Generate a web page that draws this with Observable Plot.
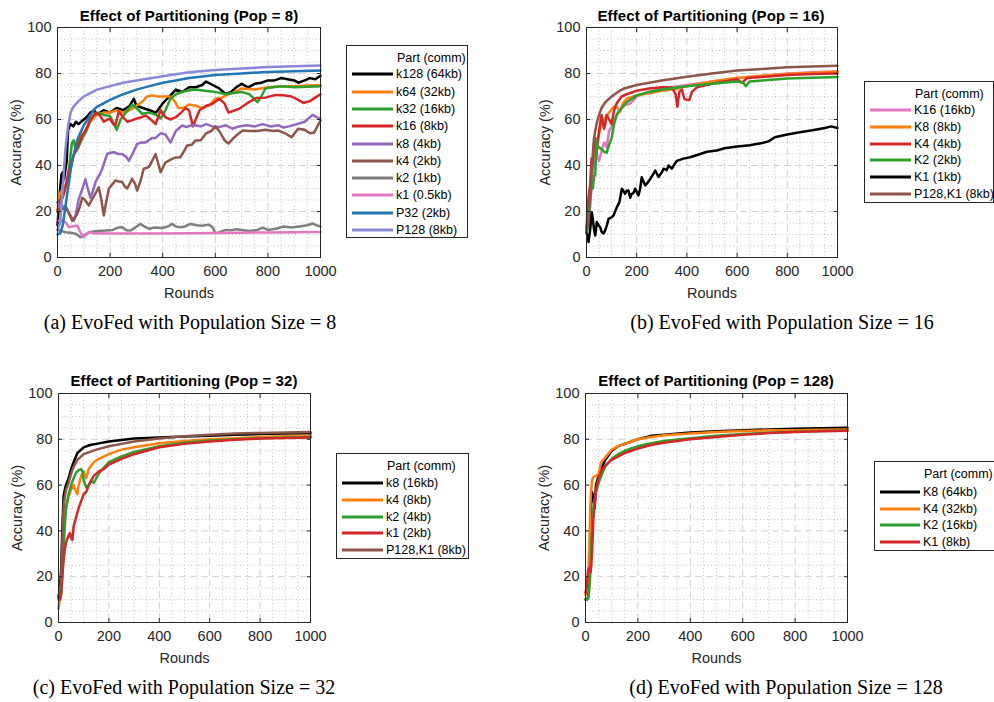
<!DOCTYPE html>
<html><head><meta charset="utf-8">
<script src="https://cdn.jsdelivr.net/npm/d3@7"></script>
<script src="https://cdn.jsdelivr.net/npm/@observablehq/plot@0.6"></script>
<style>
body{margin:0;background:#fff;}
#root{position:relative;width:994px;height:702px;overflow:hidden;font-family:"Liberation Sans",Arial,sans-serif;color:#262626}
.panel{position:absolute}
.title{position:absolute;font-weight:bold;font-size:15px;letter-spacing:0.1px;color:#000;white-space:nowrap;transform:translate(-50%,-50%)}
.caption{position:absolute;font-family:"Liberation Serif","Times New Roman",serif;font-size:20px;color:#000;white-space:nowrap;transform:translate(-50%,-50%)}
.legend{position:absolute;border:1px solid #262626;background:#fff;box-sizing:border-box}
.legend .row{position:absolute;font-size:12.5px;color:#000;white-space:nowrap;transform:translateY(-50%)}
.legend .sw{position:absolute;height:3px;transform:translateY(-50%)}
</style></head><body><div id="root"></div><script>
// ---------- tick values ----------
const xTicks = [0, 200, 400, 600, 800, 1000];
const yTicks = [0, 20, 40, 60, 80, 100];

// ---------- Panel (a): Pop = 8 ----------
const a_names = ["k128 (64kb)", "k64 (32kb)", "k32 (16kb)", "k16 (8kb)", "k8 (4kb)", "k4 (2kb)", "k2 (1kb)", "k1 (0.5kb)", "P32 (2kb)", "P128 (8kb)"];
const a_colors = ["#000000", "#ff7f0e", "#2ca02c", "#d62728", "#9467bd", "#8c564b", "#7f7f7f", "#e377c2", "#1f77b4", "#8c88d8"];
const a_k128 = [[0,14],[5,22],[10,30],[15,36],[20,37],[25,34],[30,38],[35,42],[40,55],[45,57],[50,58],[60,57],[70,59],[80,58],[90,59],[100,60],[110,61],[125,63],[140,64],[150,62],[175,64],[200,63],[225,65],[250,64],[275,66],[290,69],[300,66],[325,65],[350,64],[375,63],[400,67],[425,70],[450,73],[475,72],[500,74],[525,74],[550,75],[565,76.5],[590,75],[615,73.5],[640,71],[660,72],[680,74],[700,75.5],[725,74],[750,75.5],[775,76],[800,77],[825,77],[850,78],[875,77.5],[900,77],[915,76],[940,77],[960,78],[980,77.5],[1000,79]];
const a_k64 = [[0,20],[5,26],[10,28],[20,30],[30,31],[40,35],[50,39],[60,44],[75,50],[90,53],[100,54],[115,57],[125,59],[140,61],[150,62],[175,63],[200,63],[225,64],[250,63],[275,64],[300,66],[325,68],[340,70],[360,70.5],[380,70],[400,70],[430,70],[445,68],[460,65],[480,65],[500,66.5],[525,66],[550,65],[575,66],[600,69],[625,69.5],[650,71],[675,72],[700,73.5],[750,73],[800,74],[850,74.5],[900,74.5],[950,74.8],[1000,75]];
const a_k32 = [[0,24],[10,25],[20,27],[30,31],[37,33],[45,40],[55,50],[62,51],[70,46],[80,48],[95,52],[110,55],[125,60],[140,62],[157,63],[175,62],[200,61.5],[215,58],[225,55.5],[240,60],[260,63],[284,66.5],[300,65],[322,62.5],[350,63],[375,62],[392,60.5],[410,64],[430,69],[450,71],[475,72],[493,72.5],[525,73],[560,72.5],[600,72],[640,71],[670,71.5],[700,72],[730,71],[760,67.5],[775,70],[790,73.5],[820,74],[850,74.5],[900,74],[950,74.2],[1000,74.5]];
const a_k16 = [[0,20],[10,25],[20,26],[30,30],[40,36],[50,40],[60,44],[75,48],[94,53],[110,56],[125,60],[145,63],[160,62],[176,59],[190,60],[200,60.3],[212,58],[220,57.5],[233,63.5],[250,61],[265,59],[280,59.5],[297,60.3],[320,61],[335,61.7],[355,60],[373,58],[392,64],[410,61],[430,60],[450,61],[470,63],[487,65],[500,64],[515,57],[540,64],[565,66],[590,66.8],[615,69],[635,67],[650,63],[675,64],[690,64.6],[720,67],[755,69.3],[790,69.5],[830,70.7],[860,70.5],[890,70],[915,68.5],[935,67.2],[960,68],[980,69.5],[1000,71]];
const a_k8 = [[0,24],[10,21],[20,22],[30,22.5],[45,19],[62,16],[70,19],[81,25.5],[95,30],[106,34],[115,30],[125,26],[135,29],[145,33],[160,36],[170,38.5],[180,42],[189,45],[200,45.5],[214,45.8],[230,45],[245,45],[260,44],[271,42],[285,45],[303,49.4],[320,50],[335,50],[347,51],[360,52],[373,52],[392,54],[410,53.5],[430,50],[450,55],[474,57.4],[490,56.7],[505,57.4],[525,57.5],[545,57],[565,58],[590,57],[615,56.7],[640,57.5],[665,56],[690,57],[720,57.5],[750,57],[780,58],[810,57],[840,57.5],[860,56.5],[880,57],[910,58],[940,59],[970,62],[985,61],[1000,60.3]];
const a_k4 = [[0,20],[10,21],[20,21],[30,22],[40,20],[56,16],[65,17],[75,19],[85,22],[94,26],[105,25],[119,22.6],[130,25],[145,28],[157,30.5],[167,25],[176,18.3],[185,24],[195,29.9],[210,32],[220,33.5],[235,33],[246,32.8],[255,31],[265,30],[284,34.2],[295,32],[303,29.1],[315,33],[328,38.6],[347,39.3],[360,42],[373,45],[385,40],[392,37.1],[411,41.4],[436,42.9],[450,43.5],[467,43.6],[480,46],[493,48.7],[510,49],[525,50.9],[545,51],[565,54],[585,55],[600,57],[615,55],[635,51],[650,49.5],[670,52],[690,54],[705,55.2],[730,55],[760,55],[790,55.5],[820,55],[840,55.2],[865,54],[890,52.3],[915,56],[940,55.5],[960,54],[975,54.2],[1000,59.5]];
const a_k2 = [[0,12],[15,11.5],[30,11],[50,10.8],[68,10.3],[80,9.5],[87,8.8],[100,9.5],[119,11],[150,11.5],[183,11.7],[210,12],[230,13],[246,13.2],[262,11.8],[277,11.7],[295,13],[315,14.6],[330,13.5],[347,12.5],[370,13],[398,12.8],[420,13.5],[436,14.6],[450,13.5],[467,13.2],[485,13.5],[505,14.6],[530,14],[550,13.8],[575,14.3],[590,13],[600,10.5],[615,11],[640,12],[660,11.8],[680,12.3],[700,12],[730,11.5],[760,12],[780,13],[800,12],[830,12.5],[860,13.5],[890,13],[920,13.5],[950,14],[970,14.8],[985,14],[1000,13.5]];
const a_k1 = [[0,16],[15,16],[30,15.4],[43,13.2],[55,13.5],[75,13.9],[85,11.5],[94,9.6],[100,8.8],[110,10],[119,11],[140,10.5],[200,10.4],[300,10.4],[400,10.4],[500,10.5],[600,10.6],[700,10.8],[800,10.9],[900,11],[1000,11.1]];
const a_p32 = [[0,10],[10,10.5],[20,14],[30,22],[40,30],[50,38],[60,44],[75,51],[90,55],[100,57.5],[115,60],[125,62],[140,64.5],[150,65.5],[175,67],[200,68.5],[250,71],[300,73],[350,74.5],[400,76],[450,77],[500,78],[600,79.3],[700,80],[800,80.7],[900,81],[1000,81.3]];
const a_p128 = [[0,12],[10,15],[20,30],[30,47],[40,57],[50,63],[60,65.5],[80,68],[100,70],[125,71.5],[150,73],[200,74.5],[250,76],[300,77],[400,78.8],[500,80.5],[600,81.5],[700,82.2],[800,82.8],[900,83.2],[1000,83.5]];

// ---------- Panel (b): Pop = 16 ----------
const b_names = ["K16 (16kb)", "K8 (8kb)", "K4 (4kb)", "K2 (2kb)", "K1 (1kb)", "P128,K1 (8kb)"];
const b_colors = ["#e377c2", "#ff7f0e", "#d62728", "#2ca02c", "#000000", "#8c564b"];
const b_k16 = [[0,12],[10,20],[20,30],[30,40],[40,45],[50,42],[60,46],[70,50],[80,48],[90,55],[100,57],[125,63],[150,66],[175,67],[200,70],[250,72],[300,73.5],[400,75],[500,76.5],[600,78],[700,79],[800,80],[900,80.5],[1000,81]];
const b_k8 = [[0,12],[10,22],[21,40],[30,45],[41,50],[55,56],[68,59.6],[81,61.7],[101,64.6],[115,66],[121,65.4],[134,63.5],[145,67],[160,69],[200,70.5],[254,71.5],[300,72.5],[360,73.3],[400,74.5],[500,76.5],[600,78],[700,79],[800,79.8],[900,80.3],[1000,80.8]];
const b_k4 = [[0,12],[5,22],[10,28],[15,32],[20,43],[25,40],[30,50],[35,52],[40,45],[50,55],[60,62],[70,56],[75,58],[80,62],[90,60],[100,58],[110,64],[120,67],[140,70],[160,71],[200,72.5],[250,73.5],[300,74],[340,74],[355,71],[362,65.5],[370,72],[380,73],[390,69],[400,68.5],[410,68.5],[420,72],[440,74],[500,75.5],[600,77.5],[620,76],[640,78],[700,78.5],[800,79.3],[900,79.8],[1000,80]];
const b_k2 = [[0,11],[10,15],[20,33],[25,30],[30,35],[35,36],[40,51],[45,48],[50,48],[60,47],[70,46],[80,45.5],[90,49],[100,52],[110,58],[120,62],[140,65],[160,67.5],[200,70.5],[250,72],[300,73],[400,74.5],[500,75.5],[600,76.5],[625,76],[635,74.5],[650,76.5],[700,77],[800,77.8],[900,78.2],[1000,78.5]];
const b_k1 = [[0,11],[4,9],[8,6.7],[12,10],[15,12.5],[21,19.7],[25,17],[28,14],[32,11],[35,9.6],[41,15.4],[48,14],[55,13],[61,11],[68,10.5],[74,11.7],[81,14],[88,16.8],[100,17.5],[108,18.3],[121,21.9],[131,24],[141,29.9],[147,29],[154,27.7],[160,29],[167,29.1],[174,26],[180,27.7],[187,28],[194,29.9],[207,27],[214,30],[220,34.9],[227,33],[234,31.3],[247,33],[254,34.2],[267,36.5],[274,37.8],[287,35],[300,37],[307,38.6],[320,38],[327,40],[340,38.6],[350,40.5],[360,42],[386,43],[413,43.6],[453,45],[480,46],[519,46.5],[550,47.5],[600,48.3],[650,48.8],[700,49.8],[725,50.5],[750,52.3],[800,53.5],[850,54.5],[900,55.3],[950,56.3],[975,57],[1000,56.3]];
const b_p128 = [[0,11],[5,14],[10,20],[15,28],[20,35],[25,45],[30,52],[40,58],[50,62],[60,65],[75,67.5],[100,70],[125,72],[150,73.5],[200,75],[250,76],[300,77],[400,78.6],[500,80],[600,81.3],[700,82],[800,82.7],[900,83],[1000,83.4]];

// ---------- Panel (c): Pop = 32 ----------
const c_names = ["k8 (16kb)", "k4 (8kb)", "k2 (4kb)", "k1 (2kb)", "P128,K1 (8kb)"];
const c_colors = ["#000000", "#ff7f0e", "#2ca02c", "#d62728", "#8c564b"];
const c_k8 = [[0,11],[5,14],[10,22],[15,40],[20,55],[25,58],[30,60],[40,63],[50,67],[60,70],[75,74],[100,76.5],[125,77.5],[150,78],[200,79],[250,79.7],[300,80.3],[400,80.8],[500,81.2],[600,81.6],[700,82],[800,82.3],[900,82.5],[1000,82.6]];
const c_k4 = [[0,6],[5,10],[10,12],[15,22],[20,38],[25,45],[30,50],[40,55],[50,58],[60,60],[70,57],[75,56],[80,60],[90,64],[100,66],[110,63],[120,67],[140,70],[160,71.5],[200,73.5],[250,75.5],[300,76.5],[400,78.3],[500,79.3],[600,80],[700,80.5],[800,81],[900,81.3],[1000,81.5]];
const c_k2 = [[0,10],[5,10],[10,12],[15,20],[20,32],[25,42],[30,50],[40,56],[50,60],[60,63],[70,65.5],[80,66.5],[90,67],[95,66],[100,62],[110,59],[120,60],[130,62],[140,61],[150,63],[160,65],[175,67],[200,70],[250,72.5],[300,74.5],[400,77],[500,78.5],[600,79.5],[700,80],[800,80.5],[900,80.8],[1000,81]];
const c_k1 = [[0,11],[5,10],[10,12],[15,20],[20,27],[25,32],[30,35],[40,38],[45,39],[50,37],[55,36],[60,42],[70,46],[80,50],[90,53],[100,56],[110,57],[120,60],[140,64],[160,66],[180,67],[200,69],[250,71.5],[300,73.5],[400,76.5],[500,78],[600,79],[700,79.8],[800,80.3],[900,80.6],[1000,80.8]];
const c_p128 = [[0,12],[5,13],[10,18],[15,35],[20,50],[25,55],[30,58],[40,61],[50,65],[60,68],[75,71],[100,73.5],[125,74.5],[150,75.5],[200,77],[250,78],[300,79],[400,80.3],[500,81.3],[600,82],[700,82.5],[800,82.8],[900,83],[1000,83.2]];

// ---------- Panel (d): Pop = 128 ----------
const d_names = ["K8 (64kb)", "K4 (32kb)", "K2 (16kb)", "K1 (8kb)"];
const d_colors = ["#000000", "#ff7f0e", "#2ca02c", "#d62728"];
const d_k8 = [[0,10],[5,10],[10,11],[15,22],[20,50],[25,57],[30,55],[35,50],[40,60],[50,64],[60,67],[75,71],[100,75],[125,77],[150,78],[200,80],[250,81.5],[300,82],[400,83],[500,83.5],[600,84],[700,84.3],[800,84.6],[900,84.8],[1000,85]];
const d_k4 = [[0,12],[5,14],[10,20],[15,35],[20,55],[25,62],[30,63.5],[40,64],[50,65],[60,70],[75,72],[100,75.5],[125,77],[150,78],[200,80],[250,81],[300,81.8],[400,82.5],[500,83.2],[600,83.6],[700,83.9],[800,84],[900,84.2],[1000,84.3]];
const d_k2 = [[0,10],[5,10],[10,10.5],[15,15],[20,25],[25,40],[30,50],[40,57],[50,61],[60,64],[75,68],[100,71.5],[125,73.5],[150,75],[200,77],[250,78.3],[300,79.3],[400,80.5],[500,81.5],[600,82.3],[700,82.9],[800,83.3],[900,83.6],[1000,83.8]];
const d_k1 = [[0,13],[5,16],[10,23],[15,24],[20,22],[25,30],[30,45],[40,58],[50,63],[60,66],[75,68.5],[100,71],[125,72.5],[150,74],[200,76],[250,77.5],[300,78.5],[400,80],[500,81],[600,82],[700,82.7],[800,83.2],[900,83.5],[1000,83.7]];

// ---------- Text ----------
const titles = ["Effect of Partitioning (Pop = 8)", "Effect of Partitioning (Pop = 16)", "Effect of Partitioning (Pop = 32)", "Effect of Partitioning (Pop = 128)"];
const captions = ["(a) EvoFed with Population Size = 8", "(b) EvoFed with Population Size = 16", "(c) EvoFed with Population Size = 32", "(d) EvoFed with Population Size = 128"];
const legendTitle = "Part (comm)";
const xLabel = "Rounds";
const yLabel = "Accuracy (%)";

// ---------- Layout ----------
const panels = [
  {names: a_names, colors: a_colors, series: [a_k128, a_k64, a_k32, a_k16, a_k8, a_k4, a_k2, a_k1, a_p32, a_p128],
   svg: {left: 0, top: 0, width: 335, height: 305}, frame: {left: 57, right: 320, top: 27, bottom: 257},
   legend: {left: 346, top: 45, width: 122, height: 193, header: 11.5, first: 28.3, step: 17.3, sw: 5, swW: 41, tx: 49},
   title: {x: 189, y: 15}, caption: {x: 190, y: 322}},
  {names: b_names, colors: b_colors, series: [b_k16, b_k8, b_k4, b_k2, b_k1, b_p128],
   svg: {left: 530, top: 0, width: 320, height: 305}, frame: {left: 586, right: 837, top: 27, bottom: 257},
   legend: {left: 864, top: 81, width: 130, height: 122, header: 11.5, first: 28, step: 16.8, sw: 5, swW: 41, tx: 49},
   title: {x: 711, y: 15}, caption: {x: 782, y: 322}},
  {names: c_names, colors: c_colors, series: [c_k8, c_k4, c_k2, c_k1, c_p128],
   svg: {left: 0, top: 366, width: 325, height: 305}, frame: {left: 58, right: 310, top: 393, bottom: 622},
   legend: {left: 336, top: 453, width: 133, height: 106, header: 11.5, first: 29, step: 16.75, sw: 5, swW: 41, tx: 49},
   title: {x: 184, y: 380}, caption: {x: 184, y: 687}},
  {names: d_names, colors: d_colors, series: [d_k8, d_k4, d_k2, d_k1],
   svg: {left: 530, top: 366, width: 330, height: 305}, frame: {left: 585, right: 847, top: 393, bottom: 622},
   legend: {left: 874, top: 461, width: 121, height: 90, header: 12, first: 30, step: 16.7, sw: 5, swW: 40, tx: 48},
   title: {x: 716, y: 380}, caption: {x: 786, y: 687}}
];

const root = document.getElementById("root");
const xMinor = d3.range(0, 1001, 50).filter(v => v % 200 !== 0);
const yMinor = d3.range(0, 101, 5).filter(v => v % 20 !== 0);
const fmt = d3.format("d");

panels.forEach((p, pi) => {
  const data = p.series.flatMap((s, i) => s.map(([r, a]) => ({series: p.names[i], round: r, acc: a})));
  const mL = p.frame.left - p.svg.left, mR = p.svg.left + p.svg.width - p.frame.right;
  const mT = p.frame.top - p.svg.top, mB = p.svg.top + p.svg.height - p.frame.bottom;
  const chart = Plot.plot({
    width: p.svg.width, height: p.svg.height,
    marginLeft: mL, marginRight: mR, marginTop: mT, marginBottom: mB,
    style: {fontFamily: '"Liberation Sans", Arial, sans-serif', fontSize: "14px", color: "#262626", background: "transparent", overflow: "visible"},
    x: {domain: [0, 1000]},
    y: {domain: [0, 100]},
    color: {domain: p.names, range: p.colors},
    marks: [
      Plot.gridX(xMinor, {stroke: "#c4c4c4", strokeOpacity: 1, strokeDasharray: "1,2.5"}),
      Plot.gridY(yMinor, {stroke: "#c4c4c4", strokeOpacity: 1, strokeDasharray: "1,2.5"}),
      Plot.gridX(xTicks, {stroke: "#d2d2d2", strokeOpacity: 1, strokeDasharray: "7,4"}),
      Plot.gridY(yTicks, {stroke: "#d2d2d2", strokeOpacity: 1, strokeDasharray: "7,4"}),
      Plot.line(data, {x: "round", y: "acc", z: "series", stroke: "series", strokeWidth: 2.5, strokeLinejoin: "round"}),
      Plot.frame({stroke: "#262626"}),
      Plot.axisX(xTicks, {anchor: "bottom", tickSize: -4, tickPadding: 12, tickFormat: fmt, fontSize: 14.5, label: xLabel, labelAnchor: "center", labelArrow: "none", labelOffset: 40}),
      Plot.axisX(xTicks, {anchor: "top", tickSize: -4, tickFormat: () => "", label: null}),
      Plot.axisY(yTicks, {anchor: "left", tickSize: -4, tickPadding: 10, tickFormat: fmt, fontSize: 14.5, label: yLabel, labelAnchor: "center", labelArrow: "none", labelOffset: 47}),
      Plot.axisY(yTicks, {anchor: "right", tickSize: -4, tickFormat: () => "", label: null})
    ]
  });
  chart.classList.add("panel");
  chart.style.left = p.svg.left + "px";
  chart.style.top = p.svg.top + "px";
  root.appendChild(chart);

  const t = document.createElement("div");
  t.className = "title"; t.textContent = titles[pi];
  t.style.left = p.title.x + "px"; t.style.top = p.title.y + "px";
  root.appendChild(t);

  const c = document.createElement("div");
  c.className = "caption"; c.textContent = captions[pi];
  c.style.left = p.caption.x + "px"; c.style.top = p.caption.y + "px";
  root.appendChild(c);

  const L = p.legend;
  const lg = document.createElement("div");
  lg.className = "legend";
  Object.assign(lg.style, {left: L.left + "px", top: L.top + "px", width: L.width + "px", height: L.height + "px"});
  const h = document.createElement("div");
  h.className = "row"; h.textContent = legendTitle;
  h.style.left = (L.tx + 1) + "px"; h.style.top = L.header + "px";
  lg.appendChild(h);
  p.names.forEach((n, i) => {
    const y = L.first + i * L.step;
    const sw = document.createElement("div");
    sw.className = "sw";
    Object.assign(sw.style, {left: L.sw + "px", width: L.swW + "px", top: y + "px", background: p.colors[i]});
    lg.appendChild(sw);
    const r = document.createElement("div");
    r.className = "row"; r.textContent = n;
    r.style.left = L.tx + "px"; r.style.top = y + "px";
    lg.appendChild(r);
  });
  root.appendChild(lg);
});
</script></body></html>
